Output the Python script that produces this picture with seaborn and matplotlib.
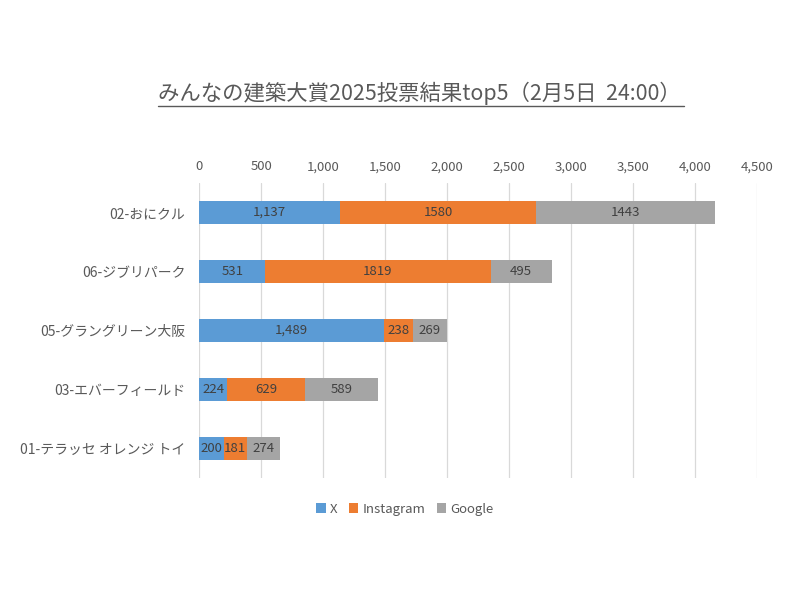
import matplotlib
matplotlib.use("Agg")
import matplotlib.pyplot as plt
import seaborn as sns
import numpy as np
import pandas as pd
from matplotlib.patches import Patch
from matplotlib.lines import Line2D

categories = ["02-おにクル", "06-ジブリパーク", "05-グラングリーン大阪", "03-エバーフィールド", "01-テラッセ オレンジ トイ"]
x_votes = [1137, 531, 1489, 224, 200]
instagram_votes = [1580, 1819, 238, 629, 181]
google_votes = [1443, 495, 269, 589, 274]
series_names = ["X", "Instagram", "Google"]
colors = ["#5B9BD5", "#ED7D31", "#A5A5A5"]
xticks = [0, 500, 1000, 1500, 2000, 2500, 3000, 3500, 4000, 4500]
title = "みんなの建築大賞2025投票結果top5（2月5日  24:00）"

sns.set_theme(style="white")
plt.rcParams['font.family'] = ['Noto Sans CJK JP', 'DejaVu Sans']

df = pd.DataFrame({"cat": categories, "X": x_votes, "Instagram": instagram_votes, "Google": google_votes})
df["c1"] = df["X"]
df["c2"] = df["X"] + df["Instagram"]
df["c3"] = df["c2"] + df["Google"]

fig = plt.figure(figsize=(8, 6.01), dpi=100)
ax = fig.add_axes([0.2491, 0.2047, 0.6972, 0.4908])

for col, c in zip(["c3", "c2", "c1"], colors[::-1]):
    sns.barplot(data=df, y="cat", x=col, orient="h", color=c, width=0.39,
                saturation=1, ax=ax, order=categories, edgecolor="none")

ax.set_xlim(0, 4500)
ax.set_ylim(4.5, -0.5)
ax.set_xticks(xticks)
ax.set_xticklabels([f"{v:,}" for v in xticks], fontsize=9.5, color="#595959")
ax.xaxis.tick_top()
ax.tick_params(axis="x", length=0, pad=7, top=True, bottom=False, labeltop=True, labelbottom=False)
ax.tick_params(axis="y", length=0, pad=10, labelsize=10, labelcolor="#595959")
ax.set_xlabel("")
ax.set_ylabel("")
ax.grid(axis="x", color="#D9D9D9", linewidth=0.9)
ax.set_axisbelow(True)
for s in ax.spines.values():
    s.set_visible(False)

for i in range(len(categories)):
    starts = [0, df["c1"][i], df["c2"][i]]
    vals = [x_votes[i], instagram_votes[i], google_votes[i]]
    texts = [f"{x_votes[i]:,}", f"{instagram_votes[i]}", f"{google_votes[i]}"]
    for s, v, t in zip(starts, vals, texts):
        ax.text(s + v / 2, i, t, ha="center", va="center", fontsize=9.5, color="#404040")

t = fig.text(0.524, 0.844, title, ha="center", va="center", fontsize=15.4, color="#595959")
fig.canvas.draw()
bb = t.get_window_extent(fig.canvas.get_renderer())
y_line = (bb.y0 - 1) / fig.bbox.height
fig.add_artist(Line2D([bb.x0 / fig.bbox.width, (bb.x1 + 3) / fig.bbox.width], [y_line, y_line],
                      transform=fig.transFigure, color="#595959", linewidth=1))

handles = [Patch(facecolor=c, edgecolor="none", label=n) for c, n in zip(colors, series_names)]
leg = fig.legend(handles=handles, loc="center", bbox_to_anchor=(0.506, 0.153), ncol=3,
                 frameon=False, handlelength=0.7, handleheight=0.7, handletextpad=0.3,
                 columnspacing=0.9, fontsize=9.5)
for tx in leg.get_texts():
    tx.set_color("#595959")

fig.savefig("out.png", dpi=100, facecolor="white")
